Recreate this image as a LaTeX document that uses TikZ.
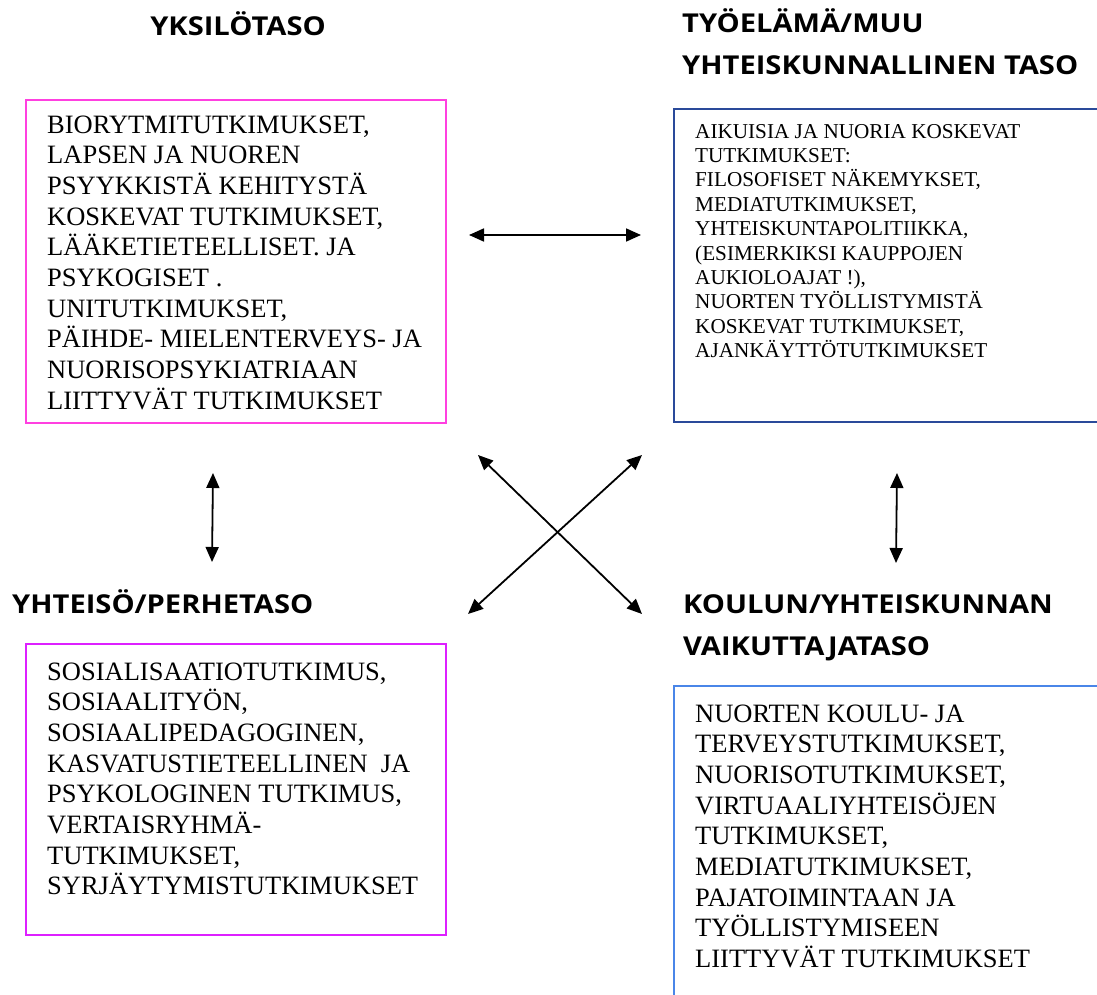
\documentclass[tikz,border=0pt]{standalone}
\usepackage{fontspec}
\setmainfont{Liberation Serif}
\newfontfamily\headfont[FakeStretch=1.12]{Open Sans}
\usetikzlibrary{arrows.meta}
\definecolor{pinkA}{HTML}{FF40E0}
\definecolor{violetA}{HTML}{DD20FF}
\definecolor{navyA}{HTML}{2A4A9A}
\definecolor{blueA}{HTML}{4A86E8}
\begin{document}
\begin{tikzpicture}[x=1pt,y=-1pt,
  head/.style={font=\headfont\bfseries\fontsize{26}{42}\selectfont, inner sep=0, align=left, anchor=base west},
  body/.style={font=\fontsize{26.5}{30.7}\selectfont, inner sep=0, align=left, anchor=base west},
  small/.style={font=\fontsize{21.2}{24.4}\selectfont, inner sep=0, align=left, anchor=base west},
  frame/.style={line width=2pt},
  link/.style={line width=1.8pt, {Triangle[length=15pt,width=13pt]}-{Triangle[length=15pt,width=13pt]}}
]
\useasboundingbox (0,0) rectangle (1097,995);

% headings (base anchor = baseline of the last line)
\node[head, anchor=base] (h1) at (238,36) {YKSILÖTASO};
\node[head] (h2) at (682,75) {TYÖELÄMÄ/MUU\\YHTEISKUNNALLINEN TASO};
\node[head] (h3) at (12,613) {YHTEISÖ/PERHETASO};
\node[head] (h4) at (683,655) {KOULUN/YHTEISKUNNAN\\VAIKUTTAJATASO};

% frames
\draw[frame, pinkA] (26,100) rectangle (446,423);
\draw[frame, navyA] (1100,109) -- (674,109) -- (674,422) -- (1100,422);
\draw[frame, violetA] (26,644) rectangle (446,935);
\draw[frame, blueA] (1100,686) -- (674,686) -- (674,1000);

% texts (anchored at the baseline of the last line)
\node[body] (t1) at (47,409.3) {BIORYTMITUTKIMUKSET,\\LAPSEN JA NUOREN\\PSYYKKISTÄ KEHITYSTÄ\\KOSKEVAT TUTKIMUKSET,\\LÄÄKETIETEELLISET. JA\\PSYKOGISET .\\UNITUTKIMUKSET,\\PÄIHDE- MIELENTERVEYS- JA\\NUORISOPSYKIATRIAAN\\LIITTYVÄT TUTKIMUKSET};
\node[small] (t2) at (695,357.6) {AIKUISIA JA NUORIA KOSKEVAT\\TUTKIMUKSET:\\FILOSOFISET NÄKEMYKSET,\\MEDIATUTKIMUKSET,\\YHTEISKUNTAPOLITIIKKA,\\(ESIMERKIKSI KAUPPOJEN\\AUKIOLOAJAT !),\\NUORTEN TYÖLLISTYMISTÄ\\KOSKEVAT TUTKIMUKSET,\\AJANKÄYTTÖTUTKIMUKSET};
\node[body] (t3) at (47,894.9) {SOSIALISAATIOTUTKIMUS,\\SOSIAALITYÖN,\\SOSIAALIPEDAGOGINEN,\\KASVATUSTIETEELLINEN\ \ JA\\PSYKOLOGINEN TUTKIMUS,\\VERTAISRYHMÄ-\\TUTKIMUKSET,\\SYRJÄYTYMISTUTKIMUKSET};
\node[body] (t4) at (695,967.6) {NUORTEN KOULU- JA\\TERVEYSTUTKIMUKSET,\\NUORISOTUTKIMUKSET,\\VIRTUAALIYHTEISÖJEN\\TUTKIMUKSET,\\MEDIATUTKIMUKSET,\\PAJATOIMINTAAN JA\\TYÖLLISTYMISEEN\\LIITTYVÄT TUTKIMUKSET};

% arrow end points
\coordinate (hl) at (469,235);
\coordinate (hr) at (641,235);
\coordinate (vlt) at (213,473);
\coordinate (vlb) at (212,562);
\coordinate (vrt) at (897,473);
\coordinate (vrb) at (896,563);
\coordinate (nw) at (478,455);
\coordinate (se) at (642,614);
\coordinate (ne) at (642,455);
\coordinate (sw) at (468,614);

\draw[link] (hl) -- (hr);
\draw[link] (vlt) -- (vlb);
\draw[link] (vrt) -- (vrb);
\draw[link] (nw) -- (se);
\draw[link] (ne) -- (sw);
\end{tikzpicture}
\end{document}
